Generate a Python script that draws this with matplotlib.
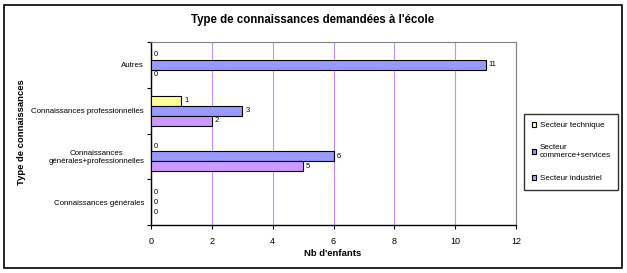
import matplotlib
matplotlib.use("Agg")
import matplotlib.pyplot as plt
from matplotlib.patches import Rectangle
import numpy as np

plt.rcParams['font.family'] = ['Liberation Sans', 'DejaVu Sans']

categories = ["Connaissances générales", "Connaissances\ngénérales+professionnelles",
              "Connaissances professionnelles", "Autres"]
series_names = ["Secteur technique", "Secteur\ncommerce+services", "Secteur industriel"]
technique = [0, 0, 1, 0]
commerce = [0, 6, 3, 11]
industriel = [0, 5, 2, 0]
colors = ["#FFFF99", "#9999FF", "#CC99FF"]
xticks = [0, 2, 4, 6, 8, 10, 12]

W, H = 627, 273
fig = plt.figure(figsize=(W/100, H/100), dpi=100)
fig.patches.append(Rectangle((4/W, 5/H), 618/W, 263/H, transform=fig.transFigure,
                             fill=False, edgecolor="black", linewidth=1.2))

left, right, top, bottom = 151, 516, 42, 225
ax = fig.add_axes([left/W, 1-bottom/H, (right-left)/W, (bottom-top)/H])

y = np.arange(len(categories))
h = 0.22
offsets = [h, 0, -h]
for vals, off, c, name in zip([technique, commerce, industriel], offsets, colors, series_names):
    ax.barh(y + off, vals, height=h, color=c, edgecolor="black", linewidth=0.8,
            label=name, zorder=3)
    for yi, v in zip(y + off, vals):
        ax.text(v + 0.1, yi, str(v), va="center", ha="left", fontsize=5.5, zorder=4)

ax.set_xlim(0, 12)
ax.set_ylim(-0.5, len(categories) - 0.5)
ax.set_xticks(xticks)
ax.set_xticklabels([str(t) for t in xticks], fontsize=6.5)
ax.set_yticks(y)
ax.set_yticklabels(categories, fontsize=5.7, ha="right")
ax.tick_params(axis="y", length=0, pad=5)
ax.set_yticks(np.arange(-0.5, len(categories), 1), minor=True)
ax.tick_params(axis="y", which="minor", length=3, direction="out", width=0.8)
ax.tick_params(axis="x", length=3, direction="out", width=0.8, pad=6)
for t in ax.get_yticklabels():
    t.set_multialignment("center")

ax.grid(axis="x", color="#BF8FFF", linewidth=0.8, zorder=0)
ax.set_axisbelow(True)
ax.spines["top"].set_color("#808080")
ax.spines["right"].set_color("#808080")
ax.spines["left"].set_color("black")
ax.spines["bottom"].set_color("black")
ax.spines["left"].set_linewidth(1)
ax.spines["bottom"].set_linewidth(1)

fig.text(313/W, 1-20/H, "Type de connaissances demandées à l'école",
         ha="center", va="center", fontsize=8.3, fontweight="bold")
fig.text(333/W, 1-253/H, "Nb d'enfants", ha="center", va="center", fontsize=6.8, fontweight="bold")
fig.text(22/W, 1-132/H, "Type de connaissances", ha="center", va="center", rotation=90,
         fontsize=6.8, fontweight="bold")

leg = fig.legend(loc="upper left", bbox_to_anchor=(524/W, 1-114/H), fontsize=5.8,
                 frameon=True, fancybox=False, edgecolor="black", handlelength=0.6,
                 handleheight=0.6, handletextpad=0.4, labelspacing=1.9, borderpad=0.95,
                 borderaxespad=0)
leg.get_frame().set_linewidth(1)

fig.savefig("out.png", dpi=100)
